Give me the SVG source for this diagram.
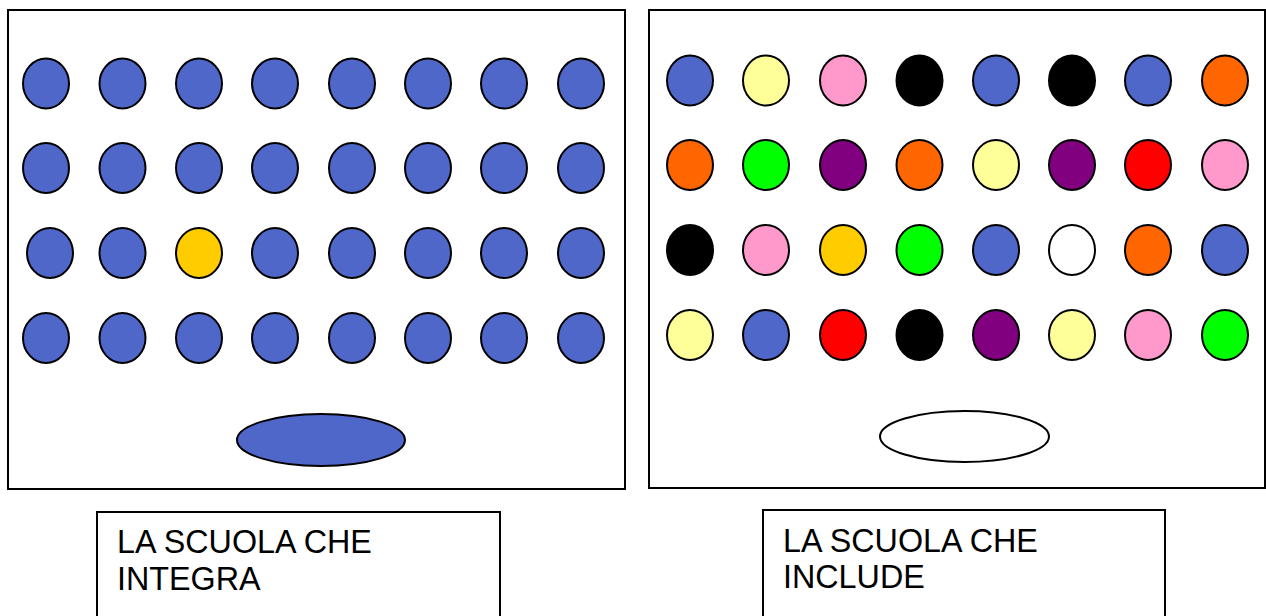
<svg xmlns="http://www.w3.org/2000/svg" width="1266" height="616" viewBox="0 0 1266 616">
<style>
.panel{fill:#fff;stroke:#000;stroke-width:2}
.c{stroke:#000;stroke-width:2}
.b{fill:#4F67C8}.y{fill:#FFFF99}.p{fill:#FF99CC}.k{fill:#000}.o{fill:#FF6600}.g{fill:#00FF00}.v{fill:#800080}.r{fill:#FF0000}.d{fill:#FFCC00}.w{fill:#fff}
.lbl{fill:#000;font-family:"Liberation Sans",Arial,sans-serif;font-size:32.3px}
</style>
<rect width="1266" height="616" fill="#fff"/>
<g id="panel-left">
<rect class="panel" x="8" y="10" width="617" height="479"/>
<g id="left-dots">
<ellipse class="c b" cx="46" cy="83.5" rx="23" ry="25"/><ellipse class="c b" cx="122.5" cy="83.5" rx="23" ry="25"/><ellipse class="c b" cx="199" cy="83.5" rx="23" ry="25"/><ellipse class="c b" cx="275" cy="83.5" rx="23" ry="25"/><ellipse class="c b" cx="352" cy="83.5" rx="23" ry="25"/><ellipse class="c b" cx="428" cy="83.5" rx="23" ry="25"/><ellipse class="c b" cx="504" cy="83.5" rx="23" ry="25"/><ellipse class="c b" cx="581" cy="83.5" rx="23" ry="25"/>
<ellipse class="c b" cx="46" cy="168" rx="23" ry="25"/><ellipse class="c b" cx="122.5" cy="168" rx="23" ry="25"/><ellipse class="c b" cx="199" cy="168" rx="23" ry="25"/><ellipse class="c b" cx="275" cy="168" rx="23" ry="25"/><ellipse class="c b" cx="352" cy="168" rx="23" ry="25"/><ellipse class="c b" cx="428" cy="168" rx="23" ry="25"/><ellipse class="c b" cx="504" cy="168" rx="23" ry="25"/><ellipse class="c b" cx="581" cy="168" rx="23" ry="25"/>
<ellipse class="c b" cx="50" cy="253" rx="23" ry="25"/><ellipse class="c b" cx="122.5" cy="253" rx="23" ry="25"/><ellipse class="c d" cx="199" cy="253" rx="23" ry="25"/><ellipse class="c b" cx="275" cy="253" rx="23" ry="25"/><ellipse class="c b" cx="352" cy="253" rx="23" ry="25"/><ellipse class="c b" cx="428" cy="253" rx="23" ry="25"/><ellipse class="c b" cx="504" cy="253" rx="23" ry="25"/><ellipse class="c b" cx="581" cy="253" rx="23" ry="25"/>
<ellipse class="c b" cx="46" cy="338" rx="23" ry="25"/><ellipse class="c b" cx="122.5" cy="338" rx="23" ry="25"/><ellipse class="c b" cx="199" cy="338" rx="23" ry="25"/><ellipse class="c b" cx="275" cy="338" rx="23" ry="25"/><ellipse class="c b" cx="352" cy="338" rx="23" ry="25"/><ellipse class="c b" cx="428" cy="338" rx="23" ry="25"/><ellipse class="c b" cx="504" cy="338" rx="23" ry="25"/><ellipse class="c b" cx="581" cy="338" rx="23" ry="25"/>
</g>
<ellipse class="c b" cx="321" cy="440" rx="84" ry="26"/>
</g>
<g id="panel-right">
<rect class="panel" x="649" y="10" width="616" height="478"/>
<g id="right-dots">
<ellipse class="c b" cx="690" cy="80.5" rx="23" ry="25"/><ellipse class="c y" cx="766" cy="80.5" rx="23" ry="25"/><ellipse class="c p" cx="843" cy="80.5" rx="23" ry="25"/><ellipse class="c k" cx="919.5" cy="80.5" rx="23" ry="25"/><ellipse class="c b" cx="996" cy="80.5" rx="23" ry="25"/><ellipse class="c k" cx="1072" cy="80.5" rx="23" ry="25"/><ellipse class="c b" cx="1148" cy="80.5" rx="23" ry="25"/><ellipse class="c o" cx="1225" cy="80.5" rx="23" ry="25"/>
<ellipse class="c o" cx="690" cy="165" rx="23" ry="25"/><ellipse class="c g" cx="766" cy="165" rx="23" ry="25"/><ellipse class="c v" cx="843" cy="165" rx="23" ry="25"/><ellipse class="c o" cx="919.5" cy="165" rx="23" ry="25"/><ellipse class="c y" cx="996" cy="165" rx="23" ry="25"/><ellipse class="c v" cx="1072" cy="165" rx="23" ry="25"/><ellipse class="c r" cx="1148" cy="165" rx="23" ry="25"/><ellipse class="c p" cx="1225" cy="165" rx="23" ry="25"/>
<ellipse class="c k" cx="690" cy="250" rx="23" ry="25"/><ellipse class="c p" cx="766" cy="250" rx="23" ry="25"/><ellipse class="c d" cx="843" cy="250" rx="23" ry="25"/><ellipse class="c g" cx="919.5" cy="250" rx="23" ry="25"/><ellipse class="c b" cx="996" cy="250" rx="23" ry="25"/><ellipse class="c w" cx="1072" cy="250" rx="23" ry="25"/><ellipse class="c o" cx="1148" cy="250" rx="23" ry="25"/><ellipse class="c b" cx="1225" cy="250" rx="23" ry="25"/>
<ellipse class="c y" cx="690" cy="335" rx="23" ry="25"/><ellipse class="c b" cx="766" cy="335" rx="23" ry="25"/><ellipse class="c r" cx="843" cy="335" rx="23" ry="25"/><ellipse class="c k" cx="919.5" cy="335" rx="23" ry="25"/><ellipse class="c v" cx="996" cy="335" rx="23" ry="25"/><ellipse class="c y" cx="1072" cy="335" rx="23" ry="25"/><ellipse class="c p" cx="1148" cy="335" rx="23" ry="25"/><ellipse class="c g" cx="1225" cy="335" rx="23" ry="25"/>
</g>
<ellipse class="c w" cx="964.5" cy="436.5" rx="84.5" ry="25.5"/>
</g>
<g id="label-left">
<rect class="panel" x="97" y="512" width="403" height="110"/>
<text class="lbl" x="117" y="553">LA SCUOLA CHE</text>
<text class="lbl" x="117" y="589.5">INTEGRA</text>
</g>
<g id="label-right">
<rect class="panel" x="763" y="510" width="402" height="112"/>
<text class="lbl" x="783" y="551.5">LA SCUOLA CHE</text>
<text class="lbl" x="783" y="588">INCLUDE</text>
</g>
<g id="connectors"/>
</svg>
